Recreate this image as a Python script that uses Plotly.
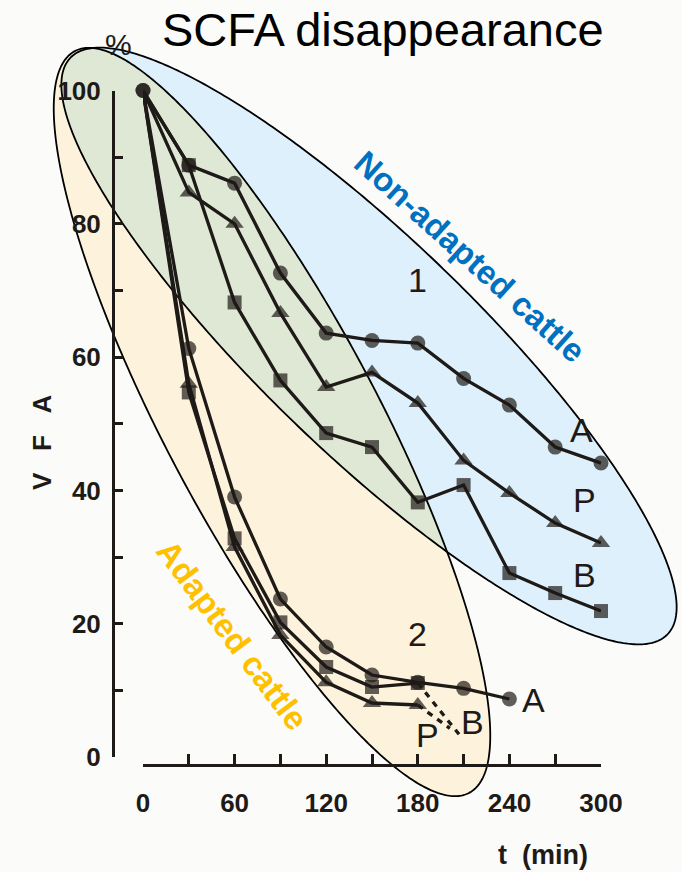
import numpy as np
import plotly.graph_objects as go

W, H = 682, 872
INK = "#1e1a17"
PAPER = "#fbfbf9"

# ---------------- data ----------------
t_min = [0, 30, 60, 90, 120, 150, 180, 210, 240, 270, 300]

# group 1: non-adapted animals
na_A = [100, 88.8, 86.1, 72.6, 63.6, 62.5, 62.1, 56.8, 52.8, 46.5, 44.1]
na_P = [100, 84.7, 80.0, 66.6, 55.5, 57.7, 53.1, 44.5, 39.6, 35.1, 32.1]
na_B = [100, 88.8, 68.2, 56.5, 48.6, 46.5, 38.2, 40.8, 27.6, 24.6, 21.9]

# group 2: adapted animals
ad_t_A = [0, 30, 60, 90, 120, 150, 180, 210, 240]
ad_A = [100, 61.3, 39.0, 23.7, 16.5, 12.3, 11.2, 10.3, 8.7]
ad_t = [0, 30, 60, 90, 120, 150, 180]
ad_P = [100, 56.0, 31.5, 18.3, 11.2, 8.1, 7.8]
ad_B = [100, 54.7, 32.8, 20.2, 13.5, 10.5, 11.1]
# extrapolated tails (dashed)
ad_B_tail_t = [180, 207]
ad_B_tail = [11.1, 3.4]
ad_P_tail_t = [180, 201]
ad_P_tail = [7.8, 4.3]

x_ticks = [0, 60, 120, 180, 240, 300]
y_ticks = [0, 20, 40, 60, 80, 100]

# ---------------- helpers ----------------
def px(x):
    return x / W


def py(y):
    return 1 - y / H


def ellipse_pts(cx, cy, a, b, ang, n=480):
    t = np.linspace(0, 2 * np.pi, n, endpoint=False)
    c, s = np.cos(np.radians(ang)), np.sin(np.radians(ang))
    x = cx + a * np.cos(t) * c - b * np.sin(t) * s
    y = cy + a * np.cos(t) * s + b * np.sin(t) * c
    return x, y


def inside(x, y, e):
    cx, cy, a, b, ang = e
    c, s = np.cos(np.radians(ang)), np.sin(np.radians(ang))
    u = (x - cx) * c + (y - cy) * s
    v = -(x - cx) * s + (y - cy) * c
    return (u / a) ** 2 + (v / b) ** 2 <= 1.0


def to_path(x, y):
    pts = " L ".join(f"{px(a):.5f},{py(b):.5f}" for a, b in zip(x, y))
    return f"M {pts} Z"


# highlight regions (pixel geometry: cx, cy, semi-major, semi-minor, angle)
BLUE_E = (369, 346, 415, 107, 44)
GOLD_E = (272, 422, 420, 106, 62)

bx, by = ellipse_pts(*BLUE_E)
gx, gy = ellipse_pts(*GOLD_E)
mb = inside(bx, by, GOLD_E)
mg = inside(gx, gy, BLUE_E)
ox = np.concatenate([bx[mb], gx[mg]])
oy = np.concatenate([by[mb], gy[mg]])
order = np.argsort(np.arctan2(oy - oy.mean(), ox - ox.mean()))
ox, oy = ox[order], oy[order]

shapes = [
    dict(type="path", path=to_path(bx, by), xref="paper", yref="paper",
         fillcolor="#ddf0fb", line=dict(width=0), layer="below"),
    dict(type="path", path=to_path(gx, gy), xref="paper", yref="paper",
         fillcolor="#fdf3dc", line=dict(width=0), layer="below"),
    dict(type="path", path=to_path(ox, oy), xref="paper", yref="paper",
         fillcolor="#dee8d5", line=dict(width=0), layer="below"),
    dict(type="path", path=to_path(bx, by), xref="paper", yref="paper",
         line=dict(color="#000000", width=1.8), layer="below"),
    dict(type="path", path=to_path(gx, gy), xref="paper", yref="paper",
         line=dict(color="#000000", width=1.8), layer="below"),
]

# ---------------- traces ----------------
fig = go.Figure()

LW = 3.3


def series(x, y, symbol, size, skip_first=True, dash=None, markers=True):
    sizes = [size] * len(y)
    if skip_first:
        sizes[0] = 0
    fig.add_trace(go.Scatter(
        x=x, y=y,
        mode="lines+markers" if markers else "lines",
        line=dict(color=INK, width=LW, dash=dash),
        marker=dict(symbol=symbol, size=sizes, color=INK, line=dict(width=0)),
        cliponaxis=False, showlegend=False, hoverinfo="x+y",
    ))


# group 1
series(t_min, na_P, "triangle-up", 16)
series(t_min, na_A, "circle", 15, skip_first=False)
series(t_min, na_B, "square", 14)

# group 2
series(ad_B_tail_t, ad_B_tail, "square", 0, dash="6px,6px", markers=False)
series(ad_P_tail_t, ad_P_tail, "square", 0, dash="6px,6px", markers=False)
series(ad_t, ad_P, "triangle-up", 16)
series(ad_t_A, ad_A, "circle", 15, skip_first=False)
series(ad_t, ad_B, "square", 14)

# ---------------- labels ----------------
LABEL_FONT = dict(family="Liberation Sans Narrow, Arial Narrow, Liberation Sans, Arial",
                  size=34, color=INK)

annotations = []


def data_label(x, y, text):
    annotations.append(dict(x=x, y=y, xref="x", yref="y", text=text,
                            showarrow=False, font=LABEL_FONT))


data_label(180, 71.5, "1")
data_label(287.5, 49.1, "A")
data_label(289.5, 38.6, "P")
data_label(289.5, 27.3, "B")
data_label(180, 18.5, "2")
data_label(255.5, 8.6, "A")
data_label(216, 5.3, "B")
data_label(186.5, 3.3, "P")


def page_text(x, y, text, size, color=INK, family="Liberation Sans, Arial", bold=False,
              angle=0):
    annotations.append(dict(
        x=px(x), y=py(y), xref="paper", yref="paper",
        text=f"<b>{text}</b>" if bold else text,
        showarrow=False, textangle=angle,
        font=dict(family=family, size=size, color=color),
        xanchor="center", yanchor="middle",
    ))


page_text(383, 30, "SCFA disappearance", 47, color="#000000")
page_text(118, 44, "%", 30, family="Liberation Sans Narrow, Liberation Sans, Arial")
page_text(42, 442, "V\u00a0\u00a0\u00a0F\u00a0\u00a0\u00a0A", 26, bold=True, angle=-90)
page_text(543, 855, "t\u00a0\u00a0(min)", 27, family="Liberation Sans Narrow, Liberation Sans, Arial",
          bold=True)
page_text(470, 256, "Non-adapted cattle", 33, color="#0070c0", bold=True, angle=42)
page_text(233, 635, "Adapted cattle", 33, color="#ffc000", bold=True, angle=53)

TICK_FONT = dict(family="Liberation Sans Narrow, Arial Narrow, Liberation Sans, Arial",
                 size=26, color=INK)

fig.update_layout(
    width=W, height=H, autosize=False,
    margin=dict(l=0, r=0, t=0, b=0, pad=0, autoexpand=False),
    paper_bgcolor=PAPER, plot_bgcolor="rgba(0,0,0,0)",
    shapes=shapes, annotations=annotations,
    xaxis=dict(
        domain=[143 / W, 601 / W], range=[0, 300],
        anchor="free", position=(H - 765) / H, automargin=False,
        showline=True, linecolor=INK, linewidth=3,
        ticks="inside", ticklen=10, tickwidth=2.5, tickcolor=INK,
        tickvals=x_ticks, ticktext=[f"<b>{v}</b>" for v in x_ticks],
        minor=dict(tickvals=list(range(0, 301, 30)), ticks="inside",
                   ticklen=10, tickwidth=2.5, tickcolor=INK),
        tickfont=TICK_FONT, ticklabelstandoff=14,
        showgrid=False, zeroline=False, fixedrange=True,
    ),
    yaxis=dict(
        domain=[(H - 757) / H, (H - 90.5) / H], range=[0, 100],
        anchor="free", position=113 / W, automargin=False,
        showline=True, linecolor=INK, linewidth=3,
        ticks="inside", ticklen=8, tickwidth=2.5, tickcolor=INK,
        tickvals=y_ticks, ticktext=[f"<b>{v}</b>" for v in y_ticks],
        minor=dict(tickvals=list(range(0, 101, 10)), ticks="inside",
                   ticklen=8, tickwidth=2.5, tickcolor=INK),
        tickfont=TICK_FONT, ticklabelstandoff=6,
        showgrid=False, zeroline=False, fixedrange=True,
    ),
)

fig.write_html("out.html")
